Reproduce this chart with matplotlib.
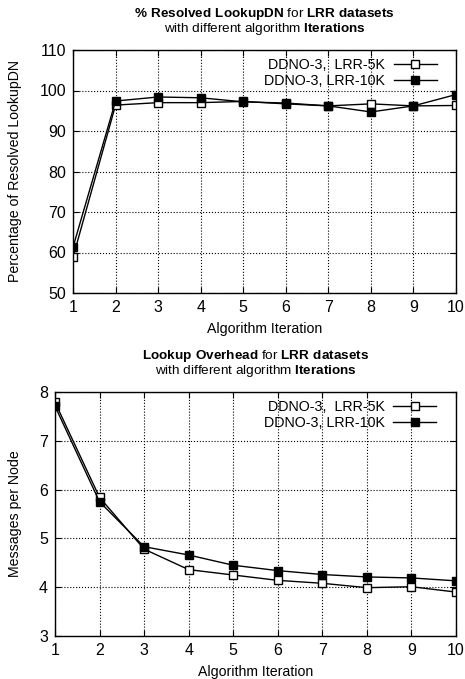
import numpy as np
import matplotlib.pyplot as plt

plt.rcParams['font.family'] = ['Liberation Sans', 'DejaVu Sans']
plt.rcParams['mathtext.fontset'] = 'custom'
plt.rcParams['mathtext.rm'] = 'Liberation Sans'
plt.rcParams['mathtext.bf'] = 'Liberation Sans:bold'

iterations = [1, 2, 3, 4, 5, 6, 7, 8, 9, 10]

# % resolved LookupDN
resolved_5k = [58.8, 96.4, 97.0, 97.0, 97.3, 96.7, 96.2, 96.7, 96.2, 96.3]
resolved_10k = [61.3, 97.4, 98.4, 98.2, 97.2, 96.9, 96.2, 94.7, 96.2, 99.0]

# messages per node
overhead_5k = [7.79, 5.84, 4.78, 4.36, 4.25, 4.14, 4.08, 3.99, 4.01, 3.90]
overhead_10k = [7.71, 5.75, 4.83, 4.66, 4.45, 4.34, 4.26, 4.21, 4.19, 4.13]

labels = ['DDNO-3,  LRR-5K', 'DDNO-3, LRR-10K']

W, H = 465, 679
fig = plt.figure(figsize=(W / 100, H / 100), dpi=100)
ax1 = fig.add_axes([73 / W, 1 - 293 / H, 383 / W, 243 / H])
ax2 = fig.add_axes([55 / W, 1 - 636 / H, 401 / W, 244 / H])


def draw(ax, y5, y10, ylim, yticks, ylabel, title1, title2, ty):
    ax.plot(iterations, y5, '-s', color='black', lw=1.0, ms=6,
            mfc='white', mec='black', mew=1.0, label=labels[0])
    ax.plot(iterations, y10, '-s', color='black', lw=1.0, ms=6,
            mfc='black', mec='black', label=labels[1])
    ax.set_xlim(1, 10)
    ax.set_ylim(*ylim)
    ax.set_xticks(iterations)
    ax.set_yticks(yticks)
    ax.grid(True, linestyle=':', color='black', lw=0.8)
    ax.tick_params(direction='in', top=True, right=True, labelsize=11.5,
                   length=4, pad=5)
    for s in ax.spines.values():
        s.set_linewidth(1.0)
    ax.set_xlabel('Algorithm Iteration', fontsize=10.2, labelpad=5)
    pos = ax.get_position()
    fig.text(15 / W, (pos.y0 + pos.y1) / 2, ylabel, rotation=90,
             ha='center', va='center', fontsize=10.2)
    cx = (pos.x0 + pos.x1) / 2
    fig.text(cx, 1 - ty / H, title1, ha='center', va='center', fontsize=9.7)
    fig.text(cx, 1 - (ty + 15) / H, title2, ha='center', va='center', fontsize=9.7)
    ax.legend(loc='upper right', frameon=False, markerfirst=False,
              fontsize=10.3, handlelength=3.0, handletextpad=0.6,
              labelspacing=0.15, borderaxespad=0.15,
              bbox_to_anchor=(1.0 - 12 / 401, 1.0))


draw(ax1, resolved_5k, resolved_10k, (50, 110), [50, 60, 70, 80, 90, 100, 110],
     'Percentage of Resolved LookupDN',
     r'$\mathbf{\%\ Resolved\ LookupDN}$ for $\mathbf{LRR\ datasets}$',
     r'with different algorithm $\mathbf{Iterations}$', 14)
draw(ax2, overhead_5k, overhead_10k, (3, 8), [3, 4, 5, 6, 7, 8],
     'Messages per Node',
     r'$\mathbf{Lookup\ Overhead}$ for $\mathbf{LRR\ datasets}$',
     r'with different algorithm $\mathbf{Iterations}$', 356)

fig.savefig('out.png', dpi=100)
